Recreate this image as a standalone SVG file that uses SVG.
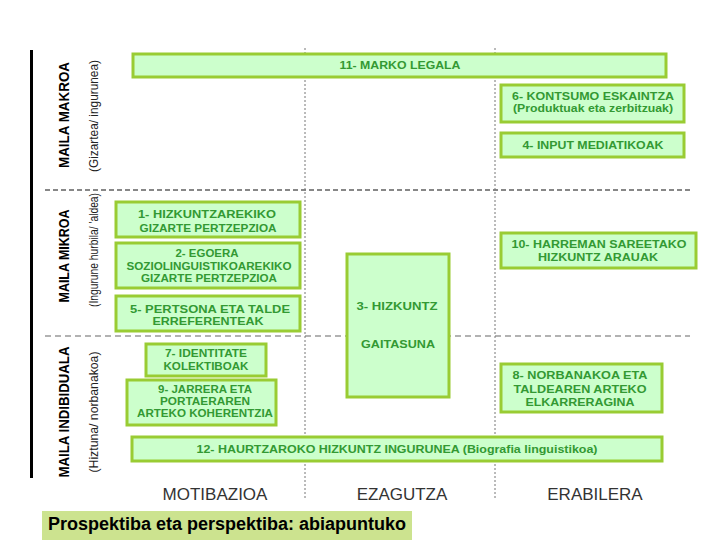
<svg xmlns="http://www.w3.org/2000/svg" width="720" height="540" viewBox="0 0 720 540">
<style>
.box{fill:#ccffcc;stroke:#99cc33;stroke-width:3}
.t{font-family:"Liberation Sans",Arial,sans-serif;font-weight:bold;font-size:11px;fill:#339933;text-anchor:middle}
.lvl{font-family:"Liberation Sans",Arial,sans-serif;font-weight:bold;font-size:15px;fill:#000;text-anchor:middle}
.sub{font-family:"Liberation Sans",Arial,sans-serif;font-size:13px;fill:#222;text-anchor:middle}
.col{font-family:"Liberation Sans",Arial,sans-serif;font-size:17px;fill:#333;text-anchor:middle}
.vdot{stroke:#777;stroke-width:1;stroke-dasharray:2 2;fill:none}
</style>
<rect width="720" height="540" fill="#fff"/>
<g id="grid">
<rect x="30" y="50" width="3" height="428" fill="#000"/>
<line x1="45" y1="190" x2="690" y2="190" stroke="#111" stroke-width="1.2" stroke-dasharray="5 3"/>
<line x1="45" y1="336" x2="690" y2="336" stroke="#999" stroke-width="1.5" stroke-dasharray="6 4"/>
<line class="vdot" x1="305" y1="48" x2="305" y2="500"/>
<line class="vdot" x1="495" y1="48" x2="495" y2="500"/>
</g>
<g id="levels">
<text class="lvl" transform="translate(69,115) rotate(-90)" textLength="106" lengthAdjust="spacingAndGlyphs">MAILA MAKROA</text>
<text class="sub" transform="translate(98,116) rotate(-90)" textLength="112" lengthAdjust="spacingAndGlyphs">(Gizartea/ ingurunea)</text>
<text class="lvl" transform="translate(69,256) rotate(-90)" textLength="93" lengthAdjust="spacingAndGlyphs">MAILA MIKROA</text>
<text class="sub" transform="translate(98,250) rotate(-90)" textLength="114" lengthAdjust="spacingAndGlyphs">(Ingurune hurbila/ 'aldea)</text>
<text class="lvl" transform="translate(69,412) rotate(-90)" textLength="131" lengthAdjust="spacingAndGlyphs">MAILA INDIBIDUALA</text>
<text class="sub" transform="translate(98,412) rotate(-90)" textLength="121" lengthAdjust="spacingAndGlyphs">(Hiztuna/ norbanakoa)</text>
</g>
<g id="n11">
<rect class="box" x="133" y="54" width="533" height="23"/>
<text class="t" x="400" y="69" textLength="121" lengthAdjust="spacingAndGlyphs">11- MARKO LEGALA</text>
</g>
<g id="n6">
<rect class="box" x="501" y="85" width="183" height="37"/>
<text class="t" x="593" y="100" textLength="162" lengthAdjust="spacingAndGlyphs">6- KONTSUMO ESKAINTZA</text>
<text class="t" x="593" y="112" textLength="160" lengthAdjust="spacingAndGlyphs">(Produktuak eta zerbitzuak)</text>
</g>
<g id="n4">
<rect class="box" x="501" y="133" width="183" height="24"/>
<text class="t" x="593" y="149" textLength="141" lengthAdjust="spacingAndGlyphs">4- INPUT MEDIATIKOAK</text>
</g>
<g id="n1">
<rect class="box" x="116" y="202" width="184" height="35"/>
<text class="t" x="207" y="218" textLength="138" lengthAdjust="spacingAndGlyphs">1- HIZKUNTZAREKIKO</text>
<text class="t" x="208" y="232" textLength="137" lengthAdjust="spacingAndGlyphs">GIZARTE PERTZEPZIOA</text>
</g>
<g id="n2">
<rect class="box" x="116" y="243" width="184" height="45"/>
<text class="t" x="207" y="257" textLength="63" lengthAdjust="spacingAndGlyphs">2- EGOERA</text>
<text class="t" x="209" y="270" style="font-size:10px" textLength="165" lengthAdjust="spacingAndGlyphs">SOZIOLINGUISTIKOAREKIKO</text>
<text class="t" x="209" y="282" style="font-size:10px" textLength="136" lengthAdjust="spacingAndGlyphs">GIZARTE PERTZEPZIOA</text>
</g>
<g id="n5">
<rect class="box" x="116" y="296" width="184" height="35"/>
<text class="t" x="210" y="313" textLength="160" lengthAdjust="spacingAndGlyphs">5- PERTSONA ETA TALDE</text>
<text class="t" x="208" y="325" textLength="111" lengthAdjust="spacingAndGlyphs">ERREFERENTEAK</text>
</g>
<g id="n3">
<rect class="box" x="347" y="254" width="102" height="143"/>
<text class="t" x="397" y="310" textLength="81" lengthAdjust="spacingAndGlyphs">3- HIZKUNTZ</text>
<text class="t" x="398" y="348" textLength="74" lengthAdjust="spacingAndGlyphs">GAITASUNA</text>
</g>
<g id="n10">
<rect class="box" x="501" y="233" width="195" height="35"/>
<text class="t" x="599" y="248" textLength="175" lengthAdjust="spacingAndGlyphs">10- HARREMAN SAREETAKO</text>
<text class="t" x="598" y="261" textLength="120" lengthAdjust="spacingAndGlyphs">HIZKUNTZ ARAUAK</text>
</g>
<g id="n8">
<rect class="box" x="501" y="364" width="161" height="48"/>
<text class="t" x="580" y="379" textLength="135" lengthAdjust="spacingAndGlyphs">8- NORBANAKOA ETA</text>
<text class="t" x="580" y="393" textLength="133" lengthAdjust="spacingAndGlyphs">TALDEAREN ARTEKO</text>
<text class="t" x="580" y="406" textLength="109" lengthAdjust="spacingAndGlyphs">ELKARRERAGINA</text>
</g>
<g id="n7">
<rect class="box" x="146" y="344" width="120" height="32"/>
<text class="t" x="206" y="357" textLength="82" lengthAdjust="spacingAndGlyphs">7- IDENTITATE</text>
<text class="t" x="206" y="370" textLength="85" lengthAdjust="spacingAndGlyphs">KOLEKTIBOAK</text>
</g>
<g id="n9">
<rect class="box" x="127" y="380" width="149" height="45"/>
<text class="t" x="205" y="393" textLength="94" lengthAdjust="spacingAndGlyphs">9- JARRERA ETA</text>
<text class="t" x="205" y="405" textLength="90" lengthAdjust="spacingAndGlyphs">PORTAERAREN</text>
<text class="t" x="205" y="417" textLength="136" lengthAdjust="spacingAndGlyphs">ARTEKO KOHERENTZIA</text>
</g>
<g id="n12">
<rect class="box" x="132" y="437" width="530" height="24"/>
<text class="t" x="397" y="453" textLength="401" lengthAdjust="spacingAndGlyphs">12- HAURTZAROKO HIZKUNTZ INGURUNEA (Biografia linguistikoa)</text>
</g>
<g id="columns">
<text class="col" x="215" y="500">MOTIBAZIOA</text>
<text class="col" x="402" y="500">EZAGUTZA</text>
<text class="col" x="595" y="500">ERABILERA</text>
</g>
<g id="caption">
<rect x="42" y="511" width="370" height="29" fill="#cce38f"/>
<text x="48" y="530" style="font-family:'Liberation Sans',Arial,sans-serif;font-weight:bold;font-size:18px;fill:#000">Prospektiba eta perspektiba: abiapuntuko</text>
</g>
</svg>
